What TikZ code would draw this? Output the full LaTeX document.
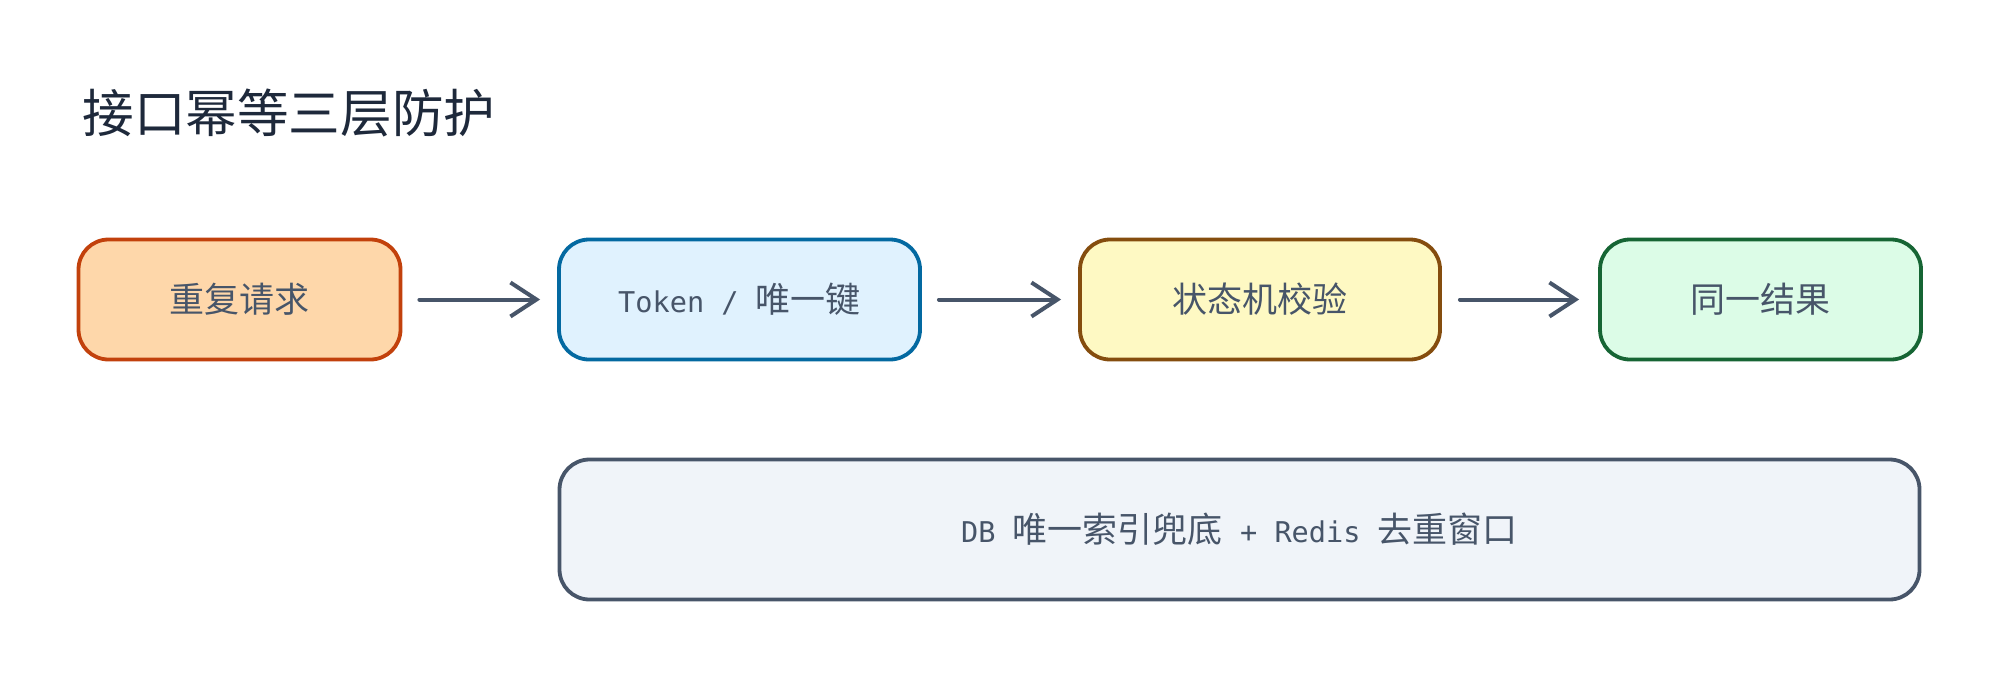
\documentclass[tikz,border=0pt]{standalone}
\usepackage{fontspec}
\setmainfont{Noto Sans CJK SC}
\newfontfamily\monofnt{DejaVu Sans Mono}
\newcommand\mtxt[1]{{\monofnt\fontsize{14.3}{17}\selectfont #1}}
\usetikzlibrary{arrows.meta}
\definecolor{txt}{HTML}{475569}
\definecolor{ttl}{HTML}{1E293B}
\definecolor{edge}{HTML}{475569}
\tikzset{
  box/.style={draw, rounded corners=15pt, line width=1.9pt, inner sep=0pt, text=txt, font=\fontsize{17.5}{20}\selectfont},
  flow/.style={draw=edge, line width=2pt, -{Straight Barb[length=13pt,width=17pt,line width=2pt]}, line cap=round},
}
\begin{document}
\begin{tikzpicture}[x=0.5pt,y=-0.5pt]
\path[use as bounding box, fill=white] (0,0) rectangle (2000,680);
\node[anchor=west, inner sep=0pt, text=ttl, font=\fontsize{25.8}{30}\selectfont] (title) at (82,113) {接口幂等三层防护};
\node[box, draw={rgb,255:red,194;green,65;blue,12}, fill={rgb,255:red,254;green,215;blue,170}, minimum width=161pt, minimum height=60pt] (a) at (239.5,299.5) {重复请求};
\node[box, draw={rgb,255:red,3;green,105;blue,161}, fill={rgb,255:red,224;green,242;blue,254}, minimum width=180.5pt, minimum height=60pt] (b) at (739.5,299.5) {\mtxt{Token / }唯一键};
\node[box, draw={rgb,255:red,133;green,77;blue,14}, fill={rgb,255:red,254;green,249;blue,195}, minimum width=180pt, minimum height=60pt] (c) at (1260,299.5) {状态机校验};
\node[box, draw={rgb,255:red,22;green,101;blue,52}, fill={rgb,255:red,220;green,252;blue,231}, minimum width=160.5pt, minimum height=60pt] (d) at (1760.5,299.5) {同一结果};
\node[box, draw=edge, fill={rgb,255:red,240;green,244;blue,249}, minimum width=680pt, minimum height=70pt] (e) at (1239.5,529.5) {\mtxt{DB }唯一索引兜底\mtxt{ + Redis }去重窗口};
\draw[flow] ([xshift=8.5pt]a.east) -- ([xshift=-8.5pt]b.west);
\draw[flow] ([xshift=8.5pt]b.east) -- ([xshift=-8.5pt]c.west);
\draw[flow] ([xshift=9pt]c.east) -- ([xshift=-9.5pt]d.west);
\end{tikzpicture}
\end{document}
